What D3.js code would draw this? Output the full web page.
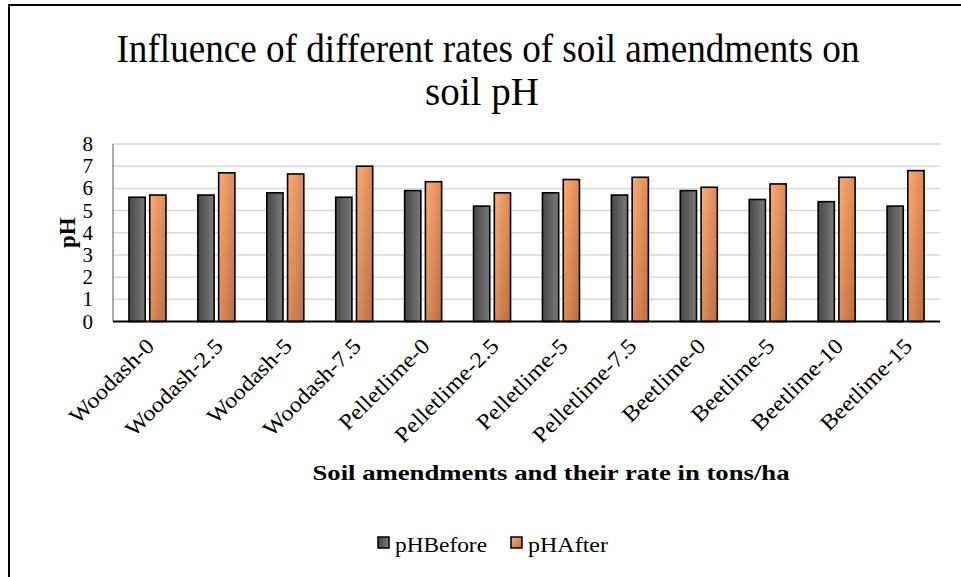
<!DOCTYPE html>
<html>
<head>
<meta charset="utf-8">
<script src="https://cdn.jsdelivr.net/npm/d3@7"></script>
<style>
  body { margin: 0; background: #fff; }
  text { font-family: "Liberation Serif", "Times New Roman", serif; fill: #000; }
</style>
</head>
<body>
<svg id="chart"></svg>
<script>
const categories = ["Woodash-0", "Woodash-2.5", "Woodash-5", "Woodash-7.5", "Pelletlime-0", "Pelletlime-2.5",
  "Pelletlime-5", "Pelletlime-7.5", "Beetlime-0", "Beetlime-5", "Beetlime-10", "Beetlime-15"];
const phBefore = [5.6, 5.7, 5.8, 5.6, 5.9, 5.2, 5.8, 5.7, 5.9, 5.5, 5.4, 5.2];
const phAfter = [5.7, 6.7, 6.65, 7.0, 6.3, 5.8, 6.4, 6.5, 6.05, 6.2, 6.5, 6.8];
const series = ["pHBefore", "pHAfter"];
const yTicks = [0, 1, 2, 3, 4, 5, 6, 7, 8];
const titleLines = ["Influence of different rates of soil amendments on", "soil pH"];

const width = 961;
const height = 577;
const margin = {top: 144, right: 21, bottom: 255, left: 113};

const svg = d3.select("#chart").attr("width", width).attr("height", height);

// gradients, roughly like the Excel fills
const defs = svg.append("defs");
const gBefore = defs.append("linearGradient").attr("id", "gradBefore")
  .attr("x1", 0).attr("y1", 0).attr("x2", 1).attr("y2", 0);
gBefore.append("stop").attr("offset", "0%").attr("stop-color", "#474747");
gBefore.append("stop").attr("offset", "100%").attr("stop-color", "#7a7a7a");
const gAfter = defs.append("linearGradient").attr("id", "gradAfter")
  .attr("x1", 0).attr("y1", 0).attr("x2", 1).attr("y2", 1);
gAfter.append("stop").attr("offset", "0%").attr("stop-color", "#ffaa72");
gAfter.append("stop").attr("offset", "100%").attr("stop-color", "#bd6e3e");
const fills = {pHBefore: "url(#gradBefore)", pHAfter: "url(#gradAfter)"};

// outer frame
svg.append("rect")
  .attr("x", 9).attr("y", 5)
  .attr("width", width + 10).attr("height", height + 10)
  .attr("fill", "none").attr("stroke", "#000").attr("stroke-width", 2);

const x = d3.scaleBand()
  .domain(categories)
  .range([margin.left, width - margin.right])
  .paddingInner(0).paddingOuter(0);

const xs = d3.scaleBand()
  .domain(series)
  .range([0, 37])
  .paddingInner(0.22);

const y = d3.scaleLinear()
  .domain([0, 8])
  .range([height - margin.bottom - 0.5, margin.top]);

// gridlines
svg.selectAll(".grid")
  .data(yTicks.slice(1))
  .enter()
  .append("line")
  .attr("x1", margin.left)
  .attr("x2", width - margin.right)
  .attr("y1", (d) => y(d))
  .attr("y2", (d) => y(d))
  .attr("stroke", "#d9d9d9")
  .attr("stroke-width", 1.5);

// y axis line
svg.append("line")
  .attr("x1", margin.left).attr("x2", margin.left)
  .attr("y1", y(8)).attr("y2", y(0))
  .attr("stroke", "#595959").attr("stroke-width", 1);

svg.selectAll(".ytick")
  .data(yTicks)
  .enter()
  .append("text")
  .attr("x", margin.left - 20)
  .attr("y", (d) => y(d) + 7)
  .attr("text-anchor", "end")
  .attr("font-size", "21px")
  .text((d) => d);

// bars
const rows = categories.map((c, i) => ({cat: c, pHBefore: phBefore[i], pHAfter: phAfter[i]}));
const groupOffset = (x.bandwidth() - 37) / 2;

svg.selectAll(".group")
  .data(rows)
  .enter()
  .append("g")
  .attr("transform", (d) => `translate(${x(d.cat) + groupOffset},0)`)
  .selectAll("rect")
  .data((d) => series.map((s) => ({key: s, value: d[s]})))
  .enter()
  .append("rect")
  .attr("x", (d) => xs(d.key))
  .attr("y", (d) => y(d.value))
  .attr("width", xs.bandwidth())
  .attr("height", (d) => y(0) - y(d.value))
  .attr("fill", (d) => fills[d.key])
  .attr("stroke", "#000")
  .attr("stroke-width", 1.6);

// x axis line
svg.append("line")
  .attr("x1", margin.left).attr("x2", width - margin.right)
  .attr("y1", y(0)).attr("y2", y(0))
  .attr("stroke", "#000").attr("stroke-width", 2);

// category labels (reference font runs wider, so stretch a bit)
svg.selectAll(".xlabel")
  .data(categories)
  .enter()
  .append("text")
  .attr("transform", (d) => `translate(${x(d) + x.bandwidth() / 2 + 8},${y(0) + 26}) rotate(-45)`)
  .attr("text-anchor", "end")
  .attr("font-size", "22px")
  .text((d) => d)
  .each(function () {
    const len = this.getComputedTextLength();
    d3.select(this).attr("textLength", len * 1.1).attr("lengthAdjust", "spacingAndGlyphs");
  });

// title
const titleX = [488, 482];
svg.selectAll(".title")
  .data(titleLines)
  .enter()
  .append("text")
  .attr("x", (d, i) => titleX[i])
  .attr("y", (d, i) => 62 + i * 43)
  .attr("text-anchor", "middle")
  .attr("font-size", "39px")
  .text((d) => d)
  .each(function (d, i) {
    if (i === 0) d3.select(this).attr("textLength", 743).attr("lengthAdjust", "spacingAndGlyphs");
  });

// axis titles
svg.append("text")
  .attr("transform", `translate(75,${(y(0) + y(8)) / 2}) rotate(-90)`)
  .attr("text-anchor", "middle")
  .attr("font-size", "23px")
  .attr("font-weight", "bold")
  .text("pH");

svg.append("text")
  .attr("x", 551)
  .attr("y", 480)
  .attr("text-anchor", "middle")
  .attr("font-size", "22px")
  .attr("font-weight", "bold")
  .attr("textLength", 477)
  .attr("lengthAdjust", "spacingAndGlyphs")
  .text("Soil amendments and their rate in tons/ha");

// legend
const legendX = [378, 511];
const legendLen = [92, 80];
const legend = svg.selectAll(".legend")
  .data(series)
  .enter()
  .append("g")
  .attr("transform", (d, i) => `translate(${legendX[i]},537)`);

legend.append("rect")
  .attr("width", 11).attr("height", 11)
  .attr("fill", (d) => fills[d])
  .attr("stroke", "#000").attr("stroke-width", 1.5);

legend.append("text")
  .attr("x", 17).attr("y", 15)
  .attr("font-size", "21px")
  .attr("textLength", (d, i) => legendLen[i])
  .attr("lengthAdjust", "spacingAndGlyphs")
  .text((d) => d);
</script>
</body>
</html>
